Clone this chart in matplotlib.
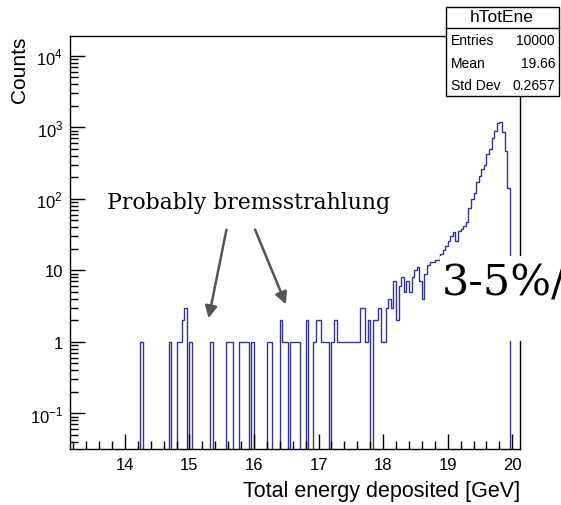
import numpy as np
import matplotlib
matplotlib.use("Agg")
import matplotlib.pyplot as plt
from matplotlib.patches import Rectangle
from matplotlib.ticker import FixedLocator, NullFormatter, LogLocator, MultipleLocator

# histogram data (bin width 0.04 GeV)
bin_w = 0.04
tail_E = [14.24, 14.68, 14.80, 14.84, 14.88, 14.92, 15.00, 15.32, 15.56, 15.60,
          15.64, 15.76, 15.80, 15.84, 15.88, 15.96, 16.20, 16.24, 16.40, 16.44,
          16.48, 16.56, 16.60, 16.64, 16.68, 16.80, 16.92, 16.96, 17.00, 17.04,
          17.08, 17.12, 17.20, 17.24, 17.28, 17.32, 17.36, 17.40, 17.44, 17.48,
          17.52, 17.56]
tail_n = [1, 1, 1, 1, 2, 3, 1, 1, 1, 1,
          1, 1, 1, 1, 1, 1, 1, 1, 2, 1,
          1, 1, 1, 1, 1, 2, 1, 2, 2, 1,
          1, 1, 1, 2, 1, 1, 1, 1, 1, 1,
          1, 1]
main_start = 17.60
main_n = [1, 3, 3, 1, 2, 0, 2, 2, 3, 1,
          1, 3, 4, 3, 7, 2, 6, 8, 5, 7,
          5, 8, 10, 11, 7, 4, 9, 12, 13, 13,
          14, 14, 17, 19, 22, 26, 30, 34, 26, 35,
          38, 42, 48, 75, 100, 120, 170, 210, 260, 300,
          420, 500, 700, 900, 1150, 1200, 850, 470, 140]

stat_names = ['Entries', 'Mean', 'Std Dev']
stat_vals = ['10000', '19.66', '0.2657']

sans = 'Liberation Sans'
plt.rcParams['font.family'] = [sans, 'DejaVu Sans']
plt.rcParams['mathtext.fontset'] = 'custom'
plt.rcParams['mathtext.rm'] = sans

W, H = 561, 506
fig = plt.figure(figsize=(W / 100, H / 100), dpi=100)

def fx(x):
    return x / W

def fy(y):
    return 1 - y / H

ax = fig.add_axes([fx(70), fy(450), fx(520) - fx(70), fy(37) - fy(450)])

# build the bin contents
lo = 14.00
nb = int(round((20.0 - lo) / bin_w))
edges = lo + bin_w * np.arange(nb + 1)
counts = np.zeros(nb)
for e, n in zip(tail_E, tail_n):
    counts[int(round((e - lo) / bin_w))] = n
for i, n in enumerate(main_n):
    counts[int(round((main_start - lo) / bin_w)) + i] = n

ax.set_yscale('log')
ax.stairs(counts, edges, color='#34348a', lw=1.0)
ax.set_xlim(13.15, 20.12)
ax.set_ylim(0.0316, 19000)

ax.yaxis.set_major_locator(FixedLocator([0.1, 1, 10, 100, 1000, 10000]))
ax.set_yticklabels([r'$10^{-1}$', '1', '10', r'$10^{2}$', r'$10^{3}$', r'$10^{4}$'])
ax.yaxis.set_minor_locator(LogLocator(base=10, subs=np.arange(2, 10)))
ax.yaxis.set_minor_formatter(NullFormatter())
ax.xaxis.set_major_locator(MultipleLocator(1))
ax.xaxis.set_minor_locator(MultipleLocator(0.2))
ax.tick_params(which='both', direction='in', top=False, right=False, labelsize=12)
ax.tick_params(which='major', length=11, width=1)
ax.tick_params(which='minor', length=6, width=1)
ax.tick_params(axis='y', pad=5)
ax.tick_params(axis='x', pad=6)
for s in ax.spines.values():
    s.set_linewidth(1)

fig.text(fx(520), fy(492), 'Total energy deposited [GeV]', ha='right', va='center', fontsize=15.5)
fig.text(fx(20), fy(37), 'Counts', rotation=90, ha='center', va='top', fontsize=15)

# stats box
fig.add_artist(Rectangle((fx(446), fy(97)), fx(559) - fx(446), fy(8) - fy(97),
                         transform=fig.transFigure, facecolor='white', edgecolor='black', lw=1, zorder=5))
fig.add_artist(plt.Line2D([fx(446), fx(559)], [fy(29), fy(29)], transform=fig.transFigure,
                          color='black', lw=1, zorder=6))
fig.text(fx(502), fy(18), 'hTotEne', ha='center', va='center', fontsize=12.5, zorder=7)
for i, (nm, v) in enumerate(zip(stat_names, stat_vals)):
    yy = 41 + 22.5 * i
    fig.text(fx(451), fy(yy), nm, ha='left', va='center', fontsize=10, zorder=7)
    fig.text(fx(555), fy(yy), v, ha='right', va='center', fontsize=10, zorder=7)

# annotations
fig.text(fx(249), fy(203), 'Probably bremsstrahlung', ha='center', va='center',
         fontsize=15.8, family='DejaVu Serif', zorder=7)
ax.annotate('', xy=(208, H - 322), xytext=(227, H - 228), xycoords='figure pixels',
            arrowprops=dict(arrowstyle='-|>', color='#555555', lw=1.8, mutation_scale=18))
ax.annotate('', xy=(287, H - 308), xytext=(254, H - 228), xycoords='figure pixels',
            arrowprops=dict(arrowstyle='-|>', color='#555555', lw=1.8, mutation_scale=18))

fig.add_artist(Rectangle((fx(440), fy(342)), fx(561) - fx(440), fy(257) - fy(342),
                         transform=fig.transFigure, facecolor='white', edgecolor='none', zorder=5))
fig.text(fx(442), fy(284), '3-5%/', ha='left', va='center', fontsize=31,
         family='DejaVu Serif', zorder=7)

fig.savefig('out.png', dpi=100, facecolor='white')
